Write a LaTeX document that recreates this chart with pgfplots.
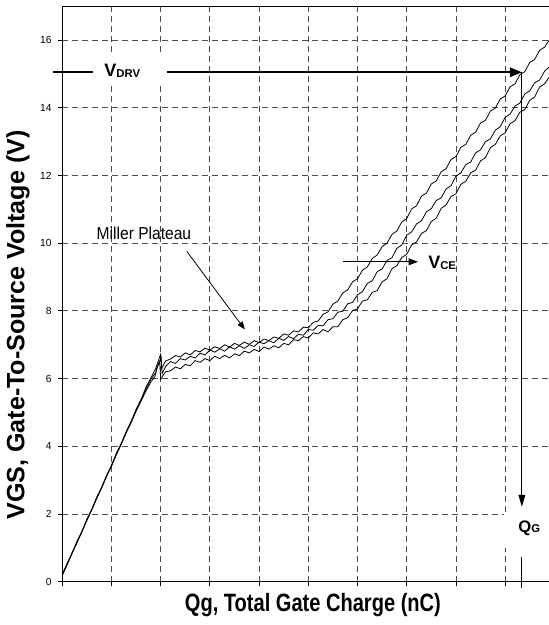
\documentclass[border=0pt]{standalone}
\usepackage{fontspec}
\setmainfont{Liberation Sans}
\usepackage{pgfplots}
\pgfplotsset{compat=1.18}
\usetikzlibrary{arrows.meta}

\newcommand{\subfont}{\fontsize{8.5}{9}\selectfont}
\newcommand{\sym}[2]{\bfseries #1{\subfont\raisebox{-0.5pt}{#2}}}

\begin{document}
\begin{tikzpicture}
\begin{axis}[
  name=ax,
  scale only axis,
  width=365pt, height=431.55pt,
  xmin=0, xmax=9.89, ymin=0, ymax=17,
  axis x line*=box, axis y line*=left,
  tick pos=left,
  tick align=outside,
  major tick length=3pt,
  xtick={0,1,...,9}, xticklabels={},
  ytick={0,2,...,16},
  grid=major,
  major grid style={black!70, line width=0.6pt, dash pattern=on 4.5pt off 3pt},
  tick style={black, line width=0.6pt},
  axis line style={black, line width=0.8pt},
  /pgf/number format/assume math mode=true,
  yticklabel style={font=\fontsize{7.7}{8}\selectfont, xshift=-1.5pt},
  xlabel={\scalebox{0.8}[1]{\bfseries\fontsize{18.8}{20}\selectfont Qg, Total Gate Charge (nC)}},
  ylabel={\bfseries\fontsize{18.8}{20}\selectfont VGS, Gate-To-Source Voltage (V)},
  xlabel style={at={(axis description cs:0.515,-0.0405)}, anchor=center},
  ylabel style={at={(axis description cs:-0.091,0.446)}, anchor=center},
  clip=false,
]
% upper curve
\addplot[black, line width=0.6pt] coordinates {
(0,0.20)(0.1,0.55)(0.2,0.83)(0.3,1.20)(0.4,1.48)(0.5,1.85)(0.6,2.13)(0.7,2.50)(0.8,2.78)(0.9,3.14)
(1.0,3.43)(1.1,3.80)(1.2,4.08)(1.3,4.44)(1.4,4.73)(1.5,5.09)(1.6,5.38)(1.7,5.74)(1.8,6.02)(1.9,6.30)
(1.95,6.52)(2.0,6.72)(2.02,6.30)(2.1,6.52)(2.2,6.58)(2.3,6.68)(2.4,6.64)(2.5,6.76)(2.6,6.70)(2.7,6.83)
(2.8,6.79)(2.9,6.90)(3.0,6.84)(3.1,6.94)(3.2,6.89)(3.3,7.00)(3.4,6.93)(3.5,7.04)(3.6,6.98)(3.7,7.08)
(3.8,7.01)(3.9,7.12)(4.0,7.06)(4.1,7.17)(4.2,7.12)(4.3,7.23)(4.4,7.19)(4.5,7.32)(4.6,7.28)(4.7,7.41)
(4.8,7.38)(4.9,7.52)(5.0,7.50)(5.1,7.66)(5.2,7.70)(5.3,7.90)(5.4,7.97)(5.5,8.20)(5.6,8.29)(5.7,8.53)
(5.8,8.62)(5.9,8.86)(6.0,8.95)(6.1,9.20)(6.2,9.30)(6.3,9.55)(6.4,9.65)(6.5,9.90)(6.6,10.00)(6.7,10.26)
(6.8,10.36)(6.9,10.63)(7.0,10.73)(7.1,11.01)(7.2,11.11)(7.3,11.39)(7.4,11.48)(7.5,11.75)(7.6,11.84)(7.7,12.11)
(7.8,12.20)(7.9,12.47)(8.0,12.56)(8.1,12.83)(8.2,12.92)(8.3,13.19)(8.4,13.28)(8.5,13.55)(8.6,13.63)(8.7,13.90)
(8.8,13.99)(8.9,14.26)(9.0,14.35)(9.1,14.62)(9.2,14.71)(9.3,14.98)(9.4,15.07)(9.5,15.34)(9.6,15.43)(9.7,15.70)
(9.8,15.79)(9.89,15.99)
};
% middle curve
\addplot[black, line width=0.6pt] coordinates {
(0,0.18)(0.1,0.50)(0.2,0.84)(0.3,1.15)(0.4,1.49)(0.5,1.80)(0.6,2.14)(0.7,2.45)(0.8,2.79)(0.9,3.10)
(1.0,3.44)(1.1,3.75)(1.2,4.09)(1.3,4.40)(1.4,4.74)(1.5,5.05)(1.6,5.37)(1.7,5.68)(1.8,5.98)(1.9,6.18)
(1.96,6.45)(2.01,6.62)(2.03,6.15)(2.1,6.36)(2.2,6.50)(2.3,6.45)(2.4,6.59)(2.5,6.55)(2.6,6.66)(2.7,6.61)
(2.8,6.75)(2.9,6.70)(3.0,6.84)(3.1,6.78)(3.2,6.88)(3.3,6.81)(3.4,6.94)(3.5,6.87)(3.6,6.97)(3.7,6.89)
(3.8,7.00)(3.9,6.95)(4.0,7.08)(4.1,7.03)(4.2,7.12)(4.3,7.06)(4.4,7.19)(4.5,7.13)(4.6,7.24)(4.7,7.18)
(4.8,7.31)(4.9,7.28)(5.0,7.45)(5.1,7.43)(5.2,7.57)(5.3,7.56)(5.4,7.74)(5.5,7.77)(5.6,7.96)(5.7,7.99)
(5.8,8.21)(5.9,8.25)(6.0,8.48)(6.1,8.57)(6.2,8.81)(6.3,8.89)(6.4,9.16)(6.5,9.24)(6.6,9.49)(6.7,9.57)
(6.8,9.85)(6.9,9.95)(7.0,10.24)(7.1,10.33)(7.2,10.57)(7.3,10.66)(7.4,10.93)(7.5,11.02)(7.6,11.26)(7.7,11.34)
(7.8,11.60)(7.9,11.70)(8.0,11.98)(8.1,12.08)(8.2,12.32)(8.3,12.40)(8.4,12.67)(8.5,12.76)(8.6,13.00)(8.7,13.08)
(8.8,13.34)(8.9,13.44)(9.0,13.72)(9.1,13.81)(9.2,14.05)(9.3,14.14)(9.4,14.41)(9.5,14.50)(9.6,14.74)(9.7,14.82)
(9.8,15.08)(9.89,15.20)
};
% lower curve
\addplot[black, line width=0.6pt] coordinates {
(0,0.22)(0.1,0.52)(0.2,0.86)(0.3,1.17)(0.4,1.47)(0.5,1.83)(0.6,2.12)(0.7,2.47)(0.8,2.76)(0.9,3.12)
(1.0,3.41)(1.1,3.76)(1.2,4.06)(1.3,4.41)(1.4,4.70)(1.5,5.04)(1.6,5.33)(1.7,5.63)(1.8,5.90)(1.88,6.05)
(1.93,6.35)(1.98,6.50)(2.0,5.98)(2.05,6.10)(2.1,6.20)(2.2,6.23)(2.3,6.34)(2.4,6.29)(2.5,6.42)(2.6,6.38)
(2.7,6.53)(2.8,6.48)(2.9,6.59)(3.0,6.53)(3.1,6.66)(3.2,6.59)(3.3,6.69)(3.4,6.61)(3.5,6.73)(3.6,6.68)
(3.7,6.81)(3.8,6.76)(3.9,6.86)(4.0,6.80)(4.1,6.93)(4.2,6.87)(4.3,6.97)(4.4,6.91)(4.5,7.04)(4.6,7.00)
(4.7,7.15)(4.8,7.12)(4.9,7.24)(5.0,7.20)(5.1,7.35)(5.2,7.32)(5.3,7.45)(5.4,7.38)(5.5,7.53)(5.6,7.53)
(5.7,7.74)(5.8,7.80)(5.9,8.01)(6.0,8.06)(6.1,8.29)(6.2,8.33)(6.3,8.55)(6.4,8.60)(6.5,8.86)(6.6,8.95)
(6.7,9.24)(6.8,9.34)(6.9,9.58)(7.0,9.67)(7.1,9.95)(7.2,10.04)(7.3,10.29)(7.4,10.37)(7.5,10.64)(7.6,10.74)
(7.7,11.03)(7.8,11.13)(7.9,11.38)(8.0,11.46)(8.1,11.74)(8.2,11.83)(8.3,12.08)(8.4,12.16)(8.5,12.43)(8.6,12.53)
(8.7,12.82)(8.8,12.92)(8.9,13.17)(9.0,13.26)(9.1,13.53)(9.2,13.62)(9.3,13.87)(9.4,13.95)(9.5,14.22)(9.6,14.32)
(9.7,14.61)(9.8,14.71)(9.89,14.89)
};
% annotations
\fill[white] (0.62,14.63) rectangle (2.13,15.6);
\fill[white] (8.98,0.99) rectangle (9.89,2.04);
\draw[line width=1.5pt] (-0.19,15.05) -- (0.626,15.05);
\draw[line width=1.5pt, -{Triangle[length=9pt,width=7pt]}] (2.13,15.05) -- (9.34,15.05);
\node at (1.22,15.09) {\fontsize{13.5}{14}\selectfont\sym{V}{DRV}};
\draw[line width=0.9pt, -{Triangle[length=9pt,width=5pt]}] (9.34,15.05) -- (9.34,2.21);
\node at (9.49,1.59) {\fontsize{12.5}{13}\selectfont\sym{Q}{G}};
\draw[line width=0.9pt] (9.34,0.73) -- (9.34,-0.19);
\node at (1.66,10.3) {\scalebox{0.9}[1]{\fontsize{13}{14}\selectfont Miller Plateau}};
\draw[line width=0.6pt, -{Triangle[length=6pt,width=4.5pt]}] (2.53,9.76) -- (3.71,7.45);
\draw[line width=0.8pt, -{Triangle[length=7pt,width=5pt]}] (5.70,9.45) -- (7.23,9.45);
\node at (7.72,9.41) {\fontsize{13.5}{14}\selectfont\sym{V}{CE}};
\end{axis}
\path (ax.south west) ++(-46.7pt,-32.5pt) coordinate (bl);
\path (ax.north east) ++(0pt,4.7pt) coordinate (tr);
\pgfresetboundingbox
\path (bl) rectangle (tr);
\end{tikzpicture}
\end{document}
